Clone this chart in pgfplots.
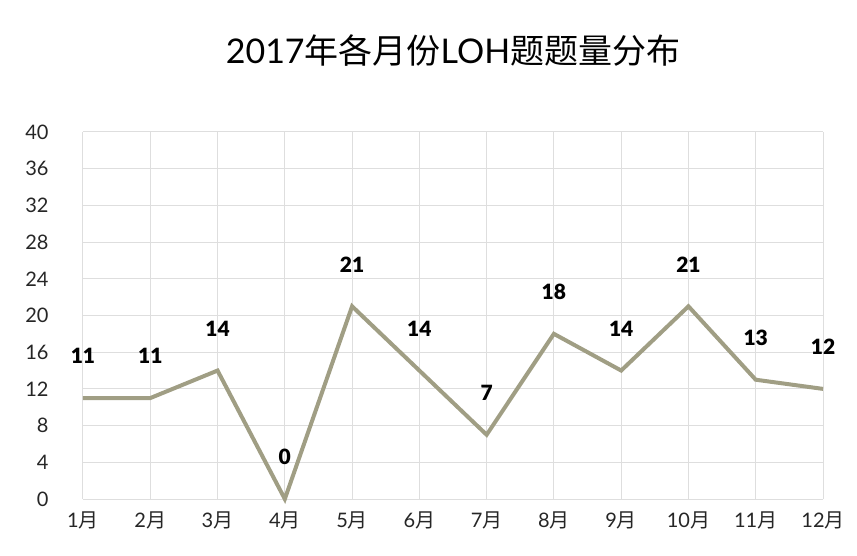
\documentclass[border=0pt]{standalone}
\usepackage{pgfplots}
\pgfplotsset{compat=1.18}
\usepackage{fontspec}
\setmainfont{Lato}
\newfontfamily\cjk{Noto Sans CJK SC}
\newfontfamily\heavy{Lato Black}
\definecolor{lineC}{RGB}{160,158,132}
\definecolor{gridC}{RGB}{222,222,222}
\begin{document}
\begin{tikzpicture}
\begin{axis}[
  at={(0,0)}, anchor=south west,
  scale only axis, width=740pt, height=367pt,
  xmin=1, xmax=12, ymin=0, ymax=40,
  xtick={1,...,12},
  xticklabels={1{\cjk 月},2{\cjk 月},3{\cjk 月},4{\cjk 月},5{\cjk 月},6{\cjk 月},7{\cjk 月},8{\cjk 月},9{\cjk 月},10{\cjk 月},11{\cjk 月},12{\cjk 月}},
  ytick={0,4,...,40},
  grid=major,
  major grid style={draw=gridC, line width=1pt},
  axis line style={draw=none},
  tick style={draw=none},
  /pgf/number format/assume math mode=true,
  tick label style={font=\fontsize{20}{24}\selectfont, text=black!85},
  yticklabel style={xshift=-31pt, anchor=east},
  xticklabel style={yshift=-9pt},
  title={2017{\cjk 年各月份}LOH{\cjk 题题量分布}},
  title style={at={(0.5,1)}, anchor=center, yshift=75pt, font=\fontsize{34}{40}\selectfont},
  clip=false,
  nodes near coords,
  every node near coord/.append style={anchor=center, yshift=42pt, font=\fontsize{21}{25}\selectfont\heavy, text=black},
]
\addplot[color=lineC, line width=4pt, mark=none, line join=miter] coordinates {
(1,11) (2,11) (3,14) (4,0) (5,21) (6,14) (7,7) (8,18) (9,14) (10,21) (11,13) (12,12)
};
\end{axis}
\path[use as bounding box] (-83pt,-56pt) rectangle (774pt,499pt);
\end{tikzpicture}
\end{document}
